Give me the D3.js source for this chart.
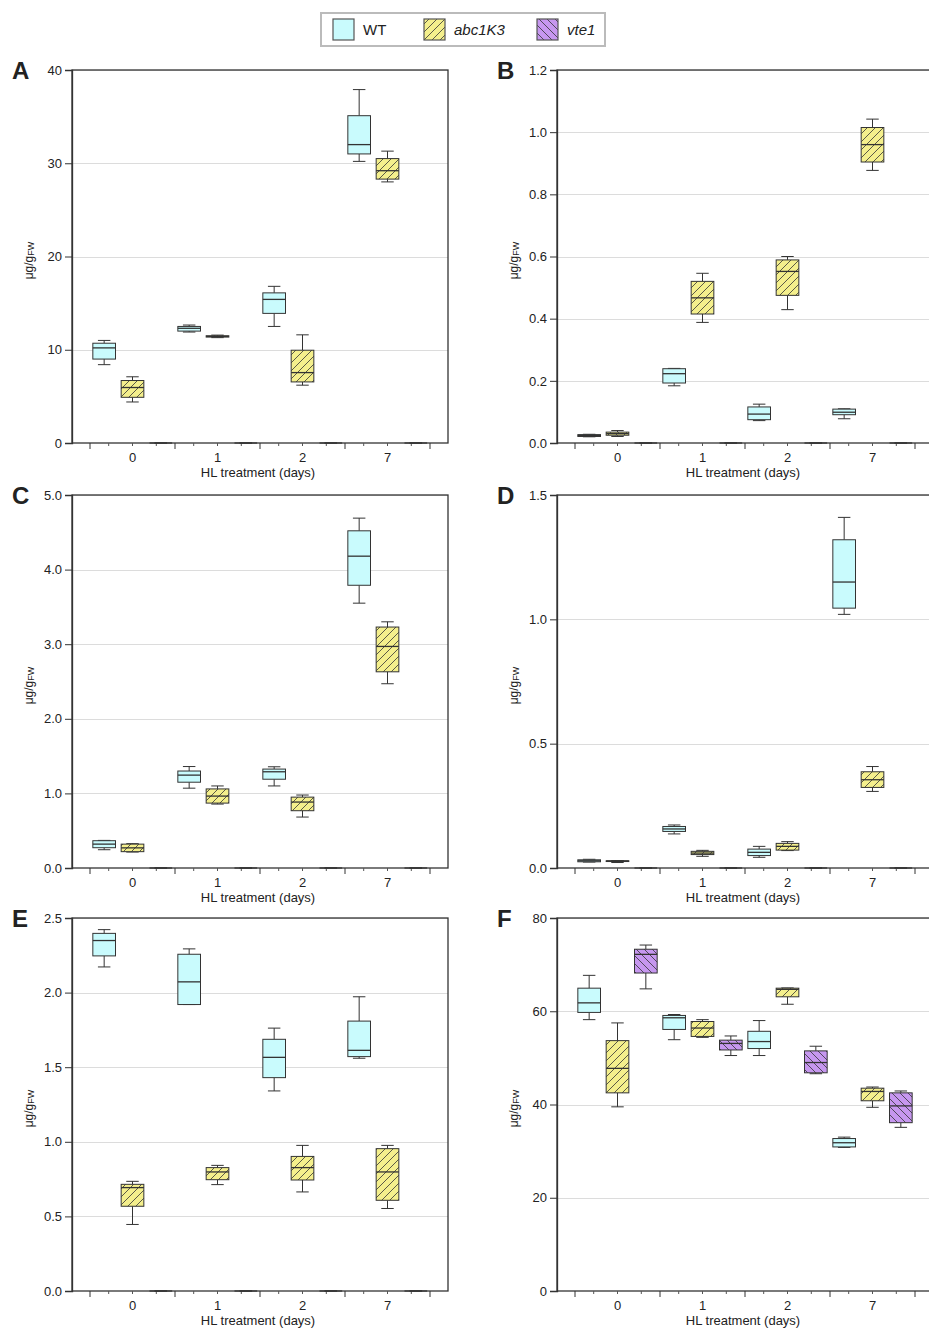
<!DOCTYPE html>
<html>
<head>
<meta charset="utf-8">
<script src="https://cdn.jsdelivr.net/npm/d3@7"></script>
<style>
  body { margin: 0; background: #fff; }
  text { font-family: Arial, "Liberation Sans", sans-serif; fill: #222; }
</style>
</head>
<body>
<svg id="chart" width="929" height="1329"></svg>
<script>
var days = ['0', '1', '2', '7'];
var genotypes = ['WT', 'abc1K3', 'vte1'];

// box summaries for each day: [low whisker, q1, median, q3, high whisker]
var A_WT     = [[8.4, 9.0, 10.2, 10.7, 11.0], [11.9, 12.0, 12.3, 12.5, 12.65], [12.5, 13.9, 15.4, 16.1, 16.8], [30.2, 31.0, 32.0, 35.1, 37.9]];
var A_abc1K3 = [[4.4, 4.9, 5.95, 6.7, 7.1], [11.3, 11.36, 11.43, 11.5, 11.57], [6.2, 6.55, 7.55, 9.95, 11.6], [28.0, 28.3, 29.2, 30.5, 31.3]];
var A_vte1   = [[0, 0, 0, 0, 0], [0, 0, 0, 0, 0], [0, 0, 0, 0, 0], [0, 0, 0, 0, 0]];
var A_ticks  = [0, 10, 20, 30, 40];

var B_WT     = [[0.02, 0.021, 0.024, 0.027, 0.028], [0.184, 0.193, 0.223, 0.239, 0.24], [0.072, 0.075, 0.093, 0.116, 0.125], [0.078, 0.091, 0.099, 0.109, 0.11]];
var B_abc1K3 = [[0.021, 0.025, 0.03, 0.035, 0.04], [0.388, 0.415, 0.467, 0.52, 0.546], [0.429, 0.475, 0.552, 0.589, 0.6], [0.877, 0.904, 0.96, 1.015, 1.042]];
var B_vte1   = [[0, 0, 0, 0, 0], [0, 0, 0, 0, 0], [0, 0, 0, 0, 0], [0, 0, 0, 0, 0]];
var B_ticks  = [0, 0.2, 0.4, 0.6, 0.8, 1.0, 1.2];

var C_WT     = [[0.245, 0.272, 0.32, 0.366, 0.37], [1.07, 1.15, 1.245, 1.30, 1.36], [1.1, 1.19, 1.29, 1.326, 1.357], [3.55, 3.79, 4.18, 4.52, 4.69]];
var C_abc1K3 = [[0.214, 0.219, 0.27, 0.32, 0.326], [0.857, 0.87, 0.964, 1.06, 1.10], [0.683, 0.768, 0.884, 0.95, 0.978], [2.47, 2.63, 2.97, 3.23, 3.30]];
var C_vte1   = [[0, 0, 0, 0, 0], [0, 0, 0, 0, 0], [0, 0, 0, 0, 0], [0, 0, 0, 0, 0]];
var C_ticks  = [0, 1, 2, 3, 4, 5];

var D_WT     = [[0.024, 0.025, 0.029, 0.033, 0.035], [0.137, 0.147, 0.157, 0.167, 0.173], [0.043, 0.05, 0.063, 0.076, 0.087], [1.02, 1.045, 1.15, 1.32, 1.41]];
var D_abc1K3 = [[0.022, 0.026, 0.028, 0.029, 0.03], [0.047, 0.054, 0.06, 0.067, 0.071], [0.07, 0.072, 0.087, 0.099, 0.106], [0.308, 0.324, 0.355, 0.387, 0.408]];
var D_vte1   = [[0, 0, 0, 0, 0], [0, 0, 0, 0, 0], [0, 0, 0, 0, 0], [0, 0, 0, 0, 0]];
var D_ticks  = [0, 0.5, 1.0, 1.5];

var E_WT     = [[2.172, 2.246, 2.349, 2.397, 2.422], [1.92, 1.92, 2.072, 2.257, 2.293], [1.341, 1.43, 1.566, 1.687, 1.762], [1.56, 1.571, 1.613, 1.809, 1.972]];
var E_abc1K3 = [[0.446, 0.568, 0.693, 0.715, 0.735], [0.713, 0.746, 0.798, 0.827, 0.842], [0.664, 0.744, 0.827, 0.902, 0.976], [0.553, 0.608, 0.798, 0.954, 0.976]];
var E_vte1   = [[0, 0, 0, 0, 0], [0, 0, 0, 0, 0], [0, 0, 0, 0, 0], [0, 0, 0, 0, 0]];
var E_ticks  = [0, 0.5, 1.0, 1.5, 2.0, 2.5];

var F_WT     = [[58.2, 59.75, 61.8, 64.95, 67.7], [53.9, 56.1, 58.6, 59.1, 59.3], [50.5, 52.0, 53.5, 55.7, 58.0], [30.8, 30.9, 31.8, 32.7, 33.0]];
var F_abc1K3 = [[39.5, 42.5, 47.75, 53.7, 57.5], [54.4, 54.6, 56.4, 57.8, 58.2], [61.5, 63.1, 64.7, 64.95, 65.0], [39.4, 40.8, 42.8, 43.5, 43.75]];
var F_vte1   = [[64.8, 68.2, 72.2, 73.3, 74.2], [50.5, 51.7, 53.1, 53.8, 54.7], [46.6, 46.8, 49.0, 51.5, 52.5], [35.1, 36.1, 39.7, 42.5, 42.9]];
var F_ticks  = [0, 20, 40, 60, 80];

var fills = { WT: '#c9fbfd', abc1K3: 'url(#hatchAbc)', vte1: 'url(#hatchVte)' };
var stroke = '#333';

var plotW = 376, plotH = 373;
var colX = [72, 557], rowY = [70, 495, 918];

var panels = [
  { id: 'A', series: [A_WT, A_abc1K3, A_vte1], ticks: A_ticks, fmt: d3.format('d') },
  { id: 'B', series: [B_WT, B_abc1K3, B_vte1], ticks: B_ticks, fmt: d3.format('.1f') },
  { id: 'C', series: [C_WT, C_abc1K3, C_vte1], ticks: C_ticks, fmt: d3.format('.1f') },
  { id: 'D', series: [D_WT, D_abc1K3, D_vte1], ticks: D_ticks, fmt: d3.format('.1f') },
  { id: 'E', series: [E_WT, E_abc1K3, E_vte1], ticks: E_ticks, fmt: d3.format('.1f') },
  { id: 'F', series: [F_WT, F_abc1K3, F_vte1], ticks: F_ticks, fmt: d3.format('d') }
];

var svg = d3.select('#chart');

// hatch patterns
var defs = svg.append('defs');
function hatch(id, bg, dir) {
  var p = defs.append('pattern').attr('id', id)
    .attr('patternUnits', 'userSpaceOnUse')
    .attr('width', 8).attr('height', 8);
  p.append('rect').attr('width', 8).attr('height', 8).attr('fill', bg);
  var d = dir > 0 ? 'M0,8 L8,0 M-2,2 L2,-2 M6,10 L10,6' : 'M0,0 L8,8 M-2,6 L2,10 M6,-2 L10,2';
  p.append('path').attr('d', d).attr('stroke', '#333').attr('stroke-width', 0.8);
}
hatch('hatchAbc', '#f4ef8c', 1);
hatch('hatchVte', '#c697ef', -1);

panels.forEach(function(p, i) {
  var x0 = colX[i % 2], y0 = rowY[Math.floor(i / 2)];
  var g = svg.append('g').attr('transform', 'translate(' + x0 + ',' + y0 + ')');

  var yScale = d3.scaleLinear()
    .domain([0, d3.max(p.ticks)])
    .range([plotH, 0]);
  var xScale = d3.scaleBand()
    .domain(days)
    .range([18, plotW - 18]);
  var sub = d3.scaleBand()
    .domain(genotypes)
    .range([0, xScale.bandwidth()])
    .paddingInner(0.2)
    .paddingOuter(0.1);
  var bw = sub.bandwidth();

  // grid lines
  g.selectAll('.grid').data(p.ticks.slice(1)).enter().append('line')
    .attr('x1', 0).attr('x2', plotW)
    .attr('y1', function(d) { return Math.round(yScale(d)) + 0.5; })
    .attr('y2', function(d) { return Math.round(yScale(d)) + 0.5; })
    .attr('stroke', '#dcdcdc').attr('stroke-width', 1);

  // frame
  g.append('rect').attr('x', 0).attr('y', 0).attr('width', plotW).attr('height', plotH)
    .attr('fill', 'none').attr('stroke', '#333').attr('stroke-width', 1.3);

  // y axis
  var yAxis = d3.axisLeft(yScale).tickValues(p.ticks).tickFormat(p.fmt).tickSize(7).tickPadding(3);
  var ya = g.append('g').call(yAxis);
  ya.select('.domain').attr('stroke', '#333').attr('stroke-width', 1.3);
  ya.selectAll('.tick line').attr('stroke', '#333');
  ya.selectAll('.tick text').style('font-size', '13px').attr('fill', '#222');

  // x axis: band boundary ticks plus minor ticks inside each band
  var bounds = days.map(function(d) { return xScale(d); }).concat([xScale(days[days.length - 1]) + xScale.bandwidth()]);
  var xa = g.append('g').attr('transform', 'translate(0,' + plotH + ')');
  xa.selectAll('.major').data(bounds).enter().append('line')
    .attr('x1', function(d) { return d; }).attr('x2', function(d) { return d; })
    .attr('y1', 0).attr('y2', 6).attr('stroke', '#333');
  var minors = [];
  days.forEach(function(d) {
    [0.22, 0.5, 0.78].forEach(function(f) { minors.push(xScale(d) + f * xScale.bandwidth()); });
  });
  xa.selectAll('.minor').data(minors).enter().append('line')
    .attr('x1', function(d) { return d; }).attr('x2', function(d) { return d; })
    .attr('y1', 0).attr('y2', 3).attr('stroke', '#555');
  xa.selectAll('.lab').data(days).enter().append('text')
    .attr('x', function(d) { return xScale(d) + xScale.bandwidth() / 2; })
    .attr('y', 19).attr('text-anchor', 'middle')
    .style('font-size', '13px').text(function(d) { return d; });
  xa.append('text').attr('x', plotW / 2 - 2).attr('y', 34)
    .attr('text-anchor', 'middle').style('font-size', '13px')
    .text('HL treatment (days)');

  // y title
  var yt = g.append('text')
    .attr('transform', 'translate(-39,' + (plotH / 2 + 4) + ') rotate(-90)')
    .attr('text-anchor', 'middle').style('font-size', '12px');
  yt.append('tspan').text('μg/g');
  yt.append('tspan').style('font-size', '9px').attr('dy', 1).text('FW');

  // panel letter
  svg.append('text').attr('x', x0 - 60).attr('y', y0 + 9)
    .style('font-size', '24px').style('font-weight', 'bold').attr('fill', '#111')
    .text(p.id);

  // boxes
  genotypes.forEach(function(gt, k) {
    var data = p.series[k];
    var bx = g.append('g');
    days.forEach(function(d, j) {
      var s = data[j];
      var cx = xScale(d) + sub(gt) + bw / 2;
      var left = xScale(d) + sub(gt);
      var cap = bw * 0.55;
      // whiskers
      bx.append('line').attr('x1', cx).attr('x2', cx)
        .attr('y1', yScale(s[3])).attr('y2', yScale(s[4])).attr('stroke', stroke);
      bx.append('line').attr('x1', cx).attr('x2', cx)
        .attr('y1', yScale(s[1])).attr('y2', yScale(s[0])).attr('stroke', stroke);
      [s[0], s[4]].forEach(function(v) {
        bx.append('line').attr('x1', cx - cap / 2).attr('x2', cx + cap / 2)
          .attr('y1', yScale(v)).attr('y2', yScale(v)).attr('stroke', stroke);
      });
      // box
      bx.append('rect').attr('x', left).attr('width', bw)
        .attr('y', yScale(s[3])).attr('height', Math.max(0, yScale(s[1]) - yScale(s[3])))
        .attr('fill', fills[gt]).attr('stroke', stroke).attr('stroke-width', 1);
      // median
      bx.append('line').attr('x1', left).attr('x2', left + bw)
        .attr('y1', yScale(s[2])).attr('y2', yScale(s[2]))
        .attr('stroke', stroke).attr('stroke-width', 1.3);
    });
  });
});

// legend
var lg = svg.append('g');
lg.append('rect').attr('x', 321).attr('y', 13).attr('width', 284).attr('height', 33)
  .attr('fill', '#fff').attr('stroke', '#bbb').attr('stroke-width', 2);
var legX = [333, 424, 537];
genotypes.forEach(function(gt, k) {
  lg.append('rect').attr('x', legX[k]).attr('y', 19).attr('width', 21).attr('height', 21)
    .attr('fill', fills[gt]).attr('stroke', '#555').attr('stroke-width', 1.2);
  lg.append('text').attr('x', legX[k] + 30).attr('y', 35)
    .style('font-size', '15px').style('font-style', gt === 'WT' ? 'normal' : 'italic')
    .text(gt);
});
</script>
</body>
</html>
